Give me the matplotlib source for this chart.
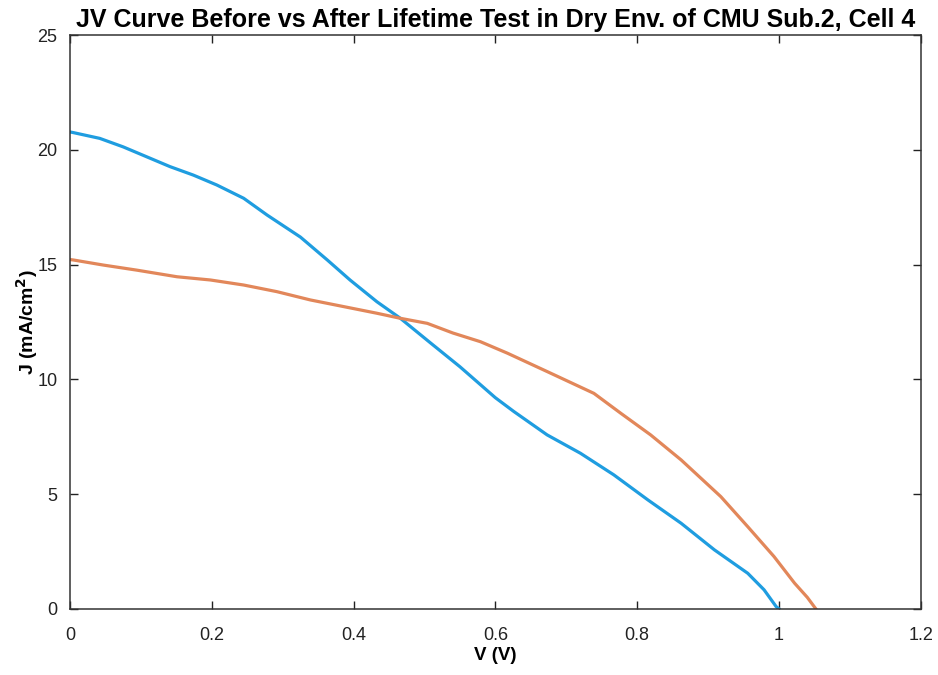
import numpy as np
import matplotlib.pyplot as plt

plt.rcParams['font.family'] = ['Liberation Sans', 'DejaVu Sans']

# JV data before lifetime test (blue)
v_before = [0.0, 0.005, 0.042, 0.075, 0.108, 0.141, 0.174, 0.207, 0.245, 0.278, 0.325,
            0.363, 0.395, 0.433, 0.466, 0.508, 0.55, 0.6, 0.626, 0.673, 0.72, 0.767,
            0.815, 0.862, 0.909, 0.956, 0.979, 0.996, 1.0]
j_before = [20.78, 20.75, 20.5, 20.13, 19.7, 19.27, 18.9, 18.47, 17.89, 17.16, 16.2,
            15.2, 14.33, 13.38, 12.66, 11.6, 10.55, 9.2, 8.6, 7.58, 6.78, 5.84,
            4.75, 3.73, 2.57, 1.55, 0.83, 0.1, 0.0]

# JV data after lifetime test (orange)
v_after = [0.0, 0.005, 0.047, 0.094, 0.151, 0.198, 0.245, 0.292, 0.339, 0.386, 0.433,
           0.466, 0.504, 0.54, 0.579, 0.617, 0.673, 0.739, 0.777, 0.819, 0.862, 0.918,
           0.956, 0.993, 1.022, 1.04, 1.052]
j_after = [15.22, 15.2, 14.98, 14.76, 14.47, 14.33, 14.11, 13.82, 13.46, 13.17, 12.88,
           12.66, 12.44, 12.02, 11.64, 11.14, 10.34, 9.39, 8.52, 7.58, 6.49, 4.89,
           3.58, 2.28, 1.12, 0.5, 0.0]

fig = plt.figure(figsize=(9.38, 6.75), dpi=100)
ax = fig.add_axes([0.0746, 0.098, 0.907, 0.85])

ax.plot(v_before, j_before, color='#1f9de0', linewidth=2.3)
ax.plot(v_after, j_after, color='#e2875a', linewidth=2.3)

ax.set_xlim(0, 1.2)
ax.set_ylim(0, 25)
ax.set_xticks([0, 0.2, 0.4, 0.6, 0.8, 1.0, 1.2])
ax.set_xticklabels(['0', '0.2', '0.4', '0.6', '0.8', '1', '1.2'])
ax.set_yticks([0, 5, 10, 15, 20, 25])
ax.tick_params(direction='in', length=6, width=1, labelsize=13, top=True, right=True,
               colors='#222222')
ax.tick_params(axis='x', pad=13)
ax.tick_params(axis='y', pad=9)
for s in ax.spines.values():
    s.set_linewidth(1.1)
    s.set_color('#333333')

ax.set_xlabel('V (V)', fontsize=13.5, fontweight='bold')
ax.set_ylabel('J (mA/cm$^\\mathbf{2}$)', fontsize=14, fontweight='bold')
ax.xaxis.set_label_coords(0.5, -0.066)
ax.yaxis.set_label_coords(-0.035, 0.5)
ax.set_title('JV Curve Before vs After Lifetime Test in Dry Env. of CMU Sub.2, Cell 4',
             fontsize=18, fontweight='bold', pad=6)

plt.savefig('out.png', dpi=100)
